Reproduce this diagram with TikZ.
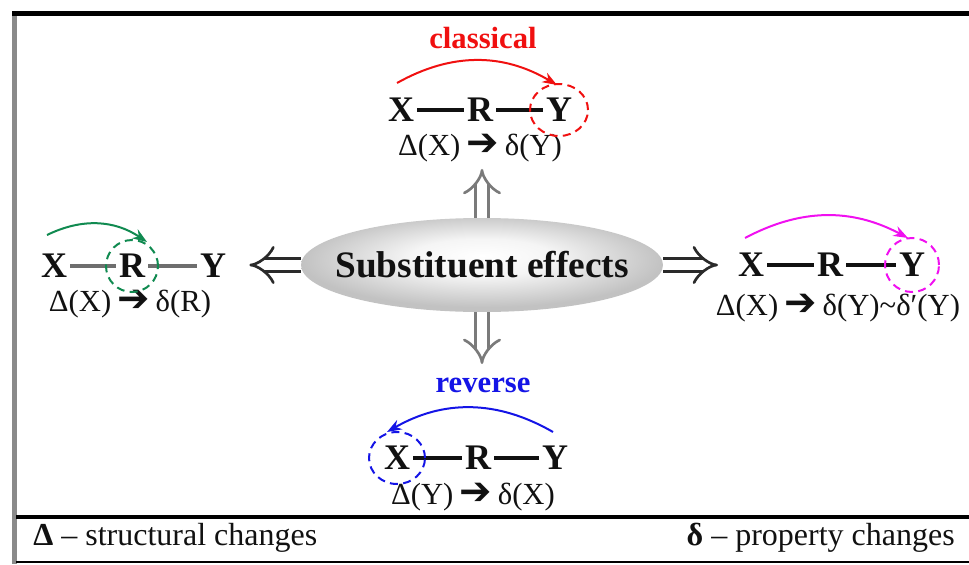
\documentclass[tikz,border=0pt]{standalone}
\usepackage{fontspec}
\setmainfont{Liberation Serif}
\newfontfamily\arrowfont{DejaVu Sans}
\usetikzlibrary{arrows.meta,positioning,shapes.geometric,calc}
\definecolor{ink}{HTML}{111111}
\definecolor{framegray}{HTML}{8A8A8A}
\definecolor{bondgray}{HTML}{6E6E6E}
\definecolor{classred}{HTML}{F01010}
\definecolor{ringgreen}{HTML}{108A50}
\definecolor{ringmag}{HTML}{F010F0}
\definecolor{revblue}{HTML}{1414E6}
\definecolor{dblgray}{HTML}{7A7A7A}
\definecolor{dbldark}{HTML}{2A2A2A}
\pgfdeclareradialshading{sebulb}{\pgfpoint{0bp}{5bp}}{%
  color(0bp)=(white); color(10bp)=(white!96!black);
  color(25bp)=(black!24); color(50bp)=(black!24)}
\newcommand{\yields}{\hspace{4.5pt}\smash{\arrowfont\fontsize{29}{29}\selectfont ➔}\hspace{4.5pt}}
\tikzset{
  atom/.style={inner sep=0pt,outer sep=2.5pt,text=ink,font=\fontsize{27}{30}\selectfont\bfseries},
  efftext/.style={inner sep=0pt,text=ink,font=\fontsize{23}{26}\selectfont},
  tagtext/.style={inner sep=0pt,font=\fontsize{23}{26}\selectfont\bfseries},
  keytext/.style={inner sep=0pt,text=ink,font=\fontsize{24}{26}\selectfont},
  bond/.style={line width=2.3pt,color=ink},
  ring/.style={dash pattern=on 6pt off 4pt,line width=1.5pt},
  shiftarr/.style={-{Stealth[length=11pt,width=8pt]},line width=1.5pt},
  dblarr/.style={-{Implies},double,double distance=8pt,line width=2pt},
}
\begin{document}
\begin{tikzpicture}[x=0.75pt,y=-0.75pt]
  \useasboundingbox (0,0) rectangle (969,564);
  % frame
  \draw[framegray,line width=3.6pt] (14.5,11) -- (14.5,564);
  \draw[black,line width=3.4pt] (12,13.5) -- (969,13.5);
  \draw[black,line width=3pt] (16,517) -- (969,517);
  \draw[black,line width=1.2pt] (16,562) -- (969,562);

  \node[ellipse,minimum width=271.5pt,minimum height=70.5pt,inner xsep=-20pt,inner ysep=0pt,
    shading=sebulb,text=ink,
    font=\fontsize{28}{30}\selectfont\bfseries] (se) at (482,265) {Substituent effects};

  % classical
  \node[tagtext,text=classred] (cls) at (483,38) {classical};
  \node[atom] (cx) at (401,110) {X};
  \node[atom] (cr) at (480,110) {R};
  \node[atom] (cy) at (559,110) {Y};
  \node[efftext] (cf) at (480,148) {Δ(X)\yields δ(Y)};
  \draw[bond] (cx) -- (cr);
  \draw[bond] (cr) -- (cy);
  \draw[ring,classred] (cy) ellipse [x radius=21.75pt,y radius=19.5pt];
  \coordinate (ca) at (397,83);
  \coordinate (cb) at (557,85);
  \draw[shiftarr,classred] (ca) to[bend left=30] (cb);

  % left: X -> R
  \node[atom] (lx) at (54,266) {X};
  \node[atom] (lr) at (132,266) {R};
  \node[atom] (ly) at (213,266) {Y};
  \node[efftext] (lf) at (130,304) {Δ(X)\yields δ(R)};
  \draw[bond,bondgray] (lx) -- (lr);
  \draw[bond,bondgray] (lr) -- (ly);
  \draw[ring,ringgreen] (lr) ellipse [x radius=19.5pt,y radius=19.5pt];
  \coordinate (la) at (47,235);
  \coordinate (lb) at (147,242);
  \draw[shiftarr,ringgreen] (la) to[bend left=30] (lb);

  % right: X -> Y (two deltas)
  \node[atom] (mx) at (751,265) {X};
  \node[atom] (mr) at (830,265) {R};
  \node[atom] (my) at (912,265) {Y};
  \node[efftext] (mf) at (838,308) {Δ(X)\yields δ(Y)\textasciitilde δ′(Y)};
  \draw[bond] (mx) -- (mr);
  \draw[bond] (mr) -- (my);
  \draw[ring,ringmag] (my) ellipse [x radius=20.25pt,y radius=20.25pt];
  \coordinate (ma) at (745,238);
  \coordinate (mb) at (908,238);
  \draw[shiftarr,ringmag] (ma) to[bend left=28] (mb);

  % reverse
  \node[tagtext,text=revblue] (rev) at (483,385) {reverse};
  \node[atom] (rx) at (397,458) {X};
  \node[atom] (rr) at (478,458) {R};
  \node[atom] (ry) at (555,458) {Y};
  \node[efftext] (rf) at (473,497) {Δ(Y)\yields δ(X)};
  \draw[bond] (rx) -- (rr);
  \draw[bond] (rr) -- (ry);
  \draw[ring,revblue] (rx) ellipse [x radius=21pt,y radius=19.5pt];
  \coordinate (ra) at (553,432);
  \coordinate (rb) at (387,432);
  \draw[shiftarr,revblue] (ra) to[bend right=30] (rb);

  % double arrows out of the ellipse
  \draw[dblarr,dblgray,shorten >=5pt] (se.north) -- (se.north |- cf.south);
  \draw[dblarr,dblgray,shorten >=10pt] (se.south) -- (se.south |- rev.north);
  \draw[dblarr,dbldark,shorten >=15pt] (se.west) -- (se.west -| ly.east);
  \draw[dblarr,dbldark,shorten >=12.5pt] (se.east) -- (se.east -| mx.west);

  % key
  \node[keytext,anchor=west] (keyl) at (33,538) {\textbf{Δ} – structural changes};
  \node[keytext,anchor=east] (keyr) at (955,538) {\textbf{δ} – property changes};
\end{tikzpicture}
\end{document}
